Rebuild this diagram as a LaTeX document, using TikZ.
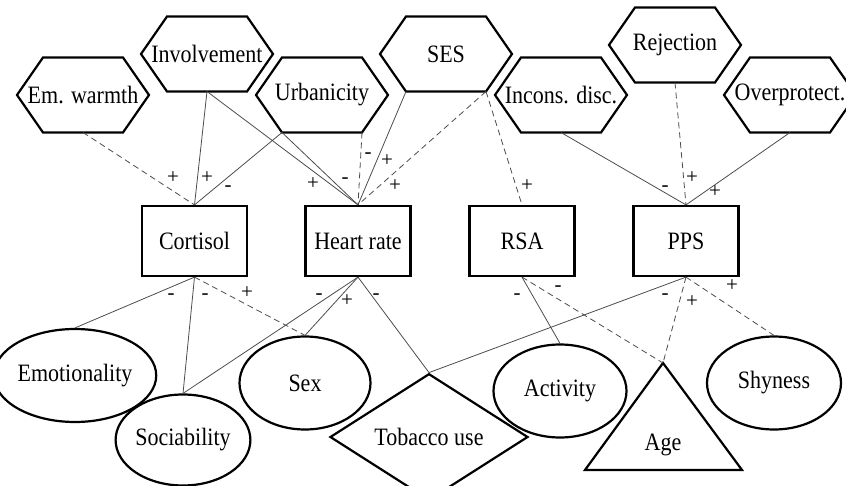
\documentclass[tikz,border=0pt]{standalone}
\usepackage{fontspec}
\setmainfont{Liberation Serif}
\newfontfamily\tnrfont[FakeStretch=0.88]{Liberation Serif}
\newfontfamily\sgnfont{Liberation Serif}
\usetikzlibrary{shapes.geometric}
\tikzset{
  txt/.style={font=\tnrfont\fontsize{25}{28}\selectfont},
  shapeline/.style={draw=black, line width=2.2pt, line join=miter},
  hexbox/.style={txt, draw=none, inner sep=0pt, outer sep=0pt, minimum width=132pt, minimum height=75pt},
  rectbox/.style={txt, shapeline, inner sep=0pt, minimum width=105pt, minimum height=70pt},
  ellbox/.style={txt, shapeline, ellipse, inner sep=0pt},
  diabox/.style={txt, shapeline, diamond, inner sep=0pt, minimum width=198pt, minimum height=98pt},
  conn/.style={draw=black!70, line width=0.8pt},
  dconn/.style={conn, dash pattern=on 6pt off 4pt},
  sgn/.style={font=\sgnfont\fontsize{21}{22}\selectfont, inner sep=0pt, text height=10pt, text depth=0pt}
}
\newcommand\hexnode[4]{%
  \node[hexbox] (#1) at (#2,#3) {#4};
  \draw[shapeline] ([xshift=26pt]#1.north west) -- ([xshift=-26pt]#1.north east) -- (#1.east)
    -- ([xshift=-26pt]#1.south east) -- ([xshift=26pt]#1.south west) -- (#1.west) -- cycle;
  \coordinate (#1-bl) at ([xshift=26pt]#1.south west);
  \coordinate (#1-br) at ([xshift=-26pt]#1.south east);
}
\begin{document}
\begin{tikzpicture}[x=1pt,y=-1pt]
\useasboundingbox (0,0) rectangle (846,486);
\clip (0,0) rectangle (846,486);
% hexagons
\hexnode{em}{83}{95}{Em. warmth}
\hexnode{inv}{207}{54}{Involvement}
\hexnode{urb}{322}{95}{Urbanicity}
\hexnode{ses}{446}{54}{SES}
\hexnode{inc}{561}{95}{Incons. disc.}
\hexnode{rej}{675}{45}{Rejection}
\hexnode{ovr}{790}{95}{Overprotect.}
% rectangles
\node[rectbox] (cort) at (194.5,241) {Cortisol};
\node[rectbox] (hr) at (358,241) {Heart rate};
\node[rectbox] (rsa) at (522,241) {RSA};
\node[rectbox] (pps) at (686,241) {PPS};
% ellipses
\node[ellbox, minimum width=134pt, minimum height=93pt] (emo) at (75,375.5) {Emotionality};
\node[ellbox, minimum width=132pt, minimum height=91pt] (soc) at (183,440) {Sociability};
\node[ellbox, minimum width=131pt, minimum height=93pt] (sex) at (305,383) {Sex};
\node[ellbox, minimum width=133pt, minimum height=93pt] (act) at (560,391) {Activity};
\node[ellbox, minimum width=134pt, minimum height=93pt] (shy) at (774,383) {Shyness};
% diamond
\node[diabox] (tob) at (429,437) {Tobacco use};
% triangle
\coordinate (agetop) at (663,363);
\coordinate (agebl) at (585,470);
\coordinate (agebr) at (742,470);
\draw[shapeline] (agetop) -- (agebr) -- (agebl) -- cycle;
\node[txt] (age) at (663,445) {Age};
% connectors top
\draw[dconn] (em.south) -- (cort.north);
\draw[conn] (inv.south) -- (cort.north);
\draw[conn] (urb-bl) -- (cort.north);
\draw[conn] (inv.south) -- (hr.north);
\draw[conn] (urb-bl) -- (hr.north);
\draw[dconn] (urb-br) -- (hr.north);
\draw[conn] (ses-bl) -- (hr.north);
\draw[dconn] (ses-br) -- (hr.north);
\draw[dconn] (ses-br) -- (rsa.north);
\draw[conn] (inc.south) -- (pps.north);
\draw[dconn] (rej.south) -- (pps.north);
\draw[conn] (ovr.south) -- (pps.north);
% connectors bottom
\draw[conn] (cort.south) -- (emo.north);
\draw[conn] (cort.south) -- (soc.north);
\draw[dconn] (cort.south) -- (sex.north);
\draw[conn] (hr.south) -- (soc.north);
\draw[conn] (hr.south) -- (sex.north);
\draw[conn] (hr.south) -- (tob.north);
\draw[conn] (rsa.south) -- (act.north);
\draw[dconn] (rsa.south) -- (agetop);
\draw[conn] (pps.south) -- (tob.north);
\draw[dconn] (pps.south) -- (agetop);
\draw[dconn] (pps.south) -- (shy.north);
% signs top
\node[sgn] (s1) at (173,179) {+};
\node[sgn] (s2) at (207,179) {+};
\node[sgn] (s3) at (228,187) {-};
\node[sgn] (s4) at (313,185) {+};
\node[sgn] (s5) at (345,179) {-};
\node[sgn] (s6) at (368,154) {-};
\node[sgn] (s7) at (387,162) {+};
\node[sgn] (s8) at (395,187) {+};
\node[sgn] (s9) at (527,187) {+};
\node[sgn] (s10) at (665,187) {-};
\node[sgn] (s11) at (692,179) {+};
\node[sgn] (s12) at (715,193) {+};
% signs bottom
\node[sgn] (b1) at (171,295) {-};
\node[sgn] (b2) at (205,295) {-};
\node[sgn] (b3) at (247,294) {+};
\node[sgn] (b4) at (319,295) {-};
\node[sgn] (b5) at (347,302) {+};
\node[sgn] (b6) at (376,295) {-};
\node[sgn] (b7) at (517,295) {-};
\node[sgn] (b8) at (558,287) {-};
\node[sgn] (b9) at (665,295) {-};
\node[sgn] (b10) at (692,303) {+};
\node[sgn] (b11) at (732,287) {+};
\end{tikzpicture}
\end{document}
